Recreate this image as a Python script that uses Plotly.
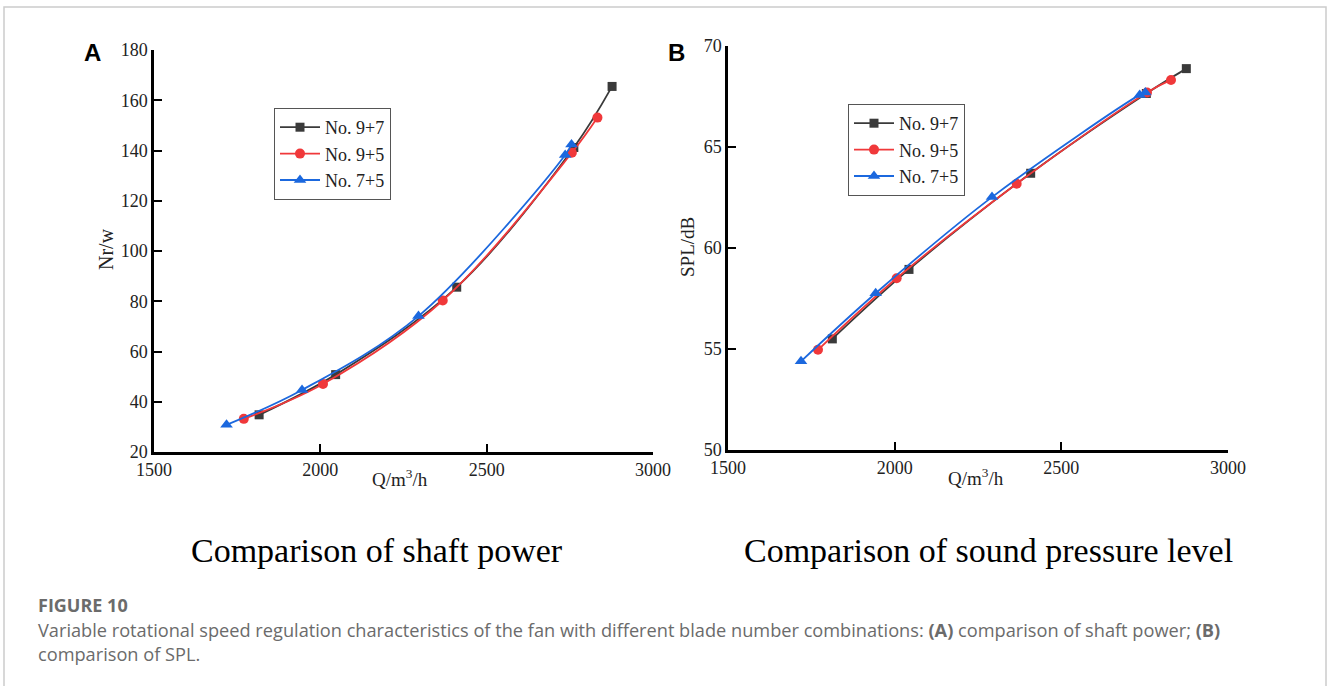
import plotly.graph_objects as go

# ---------------- data ----------------
series_names = ["No. 9+7", "No. 9+5", "No. 7+5"]

# Panel A: shaft power Nr (W) vs flow Q (m3/h)
q_97 = [1816, 2046, 2410, 2762, 2877]
nr_97 = [34.8, 50.8, 85.6, 141.2, 165.5]
q_95 = [1770, 2008, 2368, 2756, 2833]
nr_95 = [33.2, 47.1, 80.3, 139.1, 153.1]
q_75 = [1718, 1945, 2295, 2736, 2755]
nr_75 = [30.8, 44.7, 74.1, 138.2, 142.4]

# Panel B: SPL (dB) vs flow Q (m3/h)
qb_97 = [1813, 2043, 2408, 2755, 2875]
spl_97 = [55.5, 58.94, 63.7, 67.65, 68.88]
qb_95 = [1770, 2006, 2366, 2757, 2829]
spl_95 = [54.96, 58.5, 63.18, 67.7, 68.32]
qb_75 = [1719, 1943, 2292, 2735, 2752]
spl_75 = [54.39, 57.76, 62.52, 67.58, 67.7]

x_ticks = [1500, 2000, 2500, 3000]
ya_ticks = [20, 40, 60, 80, 100, 120, 140, 160, 180]
yb_ticks = [50, 55, 60, 65, 70]

colors = ["#3a3a3a", "#f0383a", "#1b68de"]
symbols = ["square", "circle", "triangle-up"]
msizes = [9, 10, 11]

W, H = 1328, 686
SERIF = "Liberation Serif"

fig = go.Figure()

panelA = [(q_97, nr_97), (q_95, nr_95), (q_75, nr_75)]
panelB = [(qb_97, spl_97), (qb_95, spl_95), (qb_75, spl_75)]

for i, (x, y) in enumerate(panelA):
    fig.add_trace(go.Scatter(
        x=x, y=y, name=series_names[i], mode="lines+markers",
        line=dict(color=colors[i], width=1.8, shape="spline", smoothing=1.0),
        marker=dict(color=colors[i], symbol=symbols[i], size=msizes[i]),
        xaxis="x", yaxis="y", legend="legend"))
for i, (x, y) in enumerate(panelB):
    fig.add_trace(go.Scatter(
        x=x, y=y, name=series_names[i], mode="lines+markers",
        line=dict(color=colors[i], width=1.8, shape="spline", smoothing=1.0),
        marker=dict(color=colors[i], symbol=symbols[i], size=msizes[i]),
        xaxis="x2", yaxis="y2", legend="legend2"))

def px(x):
    return x / W

def py(y):
    return 1 - y / H

axis_common = dict(
    showgrid=False, zeroline=False, showline=True, linecolor="black", linewidth=2.5,
    ticks="inside", ticklen=8, tickwidth=2, tickcolor="black", automargin=False,
    tickfont=dict(family=SERIF, size=18, color="#222"), mirror=False)

legend_common = dict(xanchor="left", yanchor="top", bgcolor="white",
                     bordercolor="#555", borderwidth=1,
                     font=dict(family=SERIF, size=18, color="#222"),
                     tracegroupgap=0, itemwidth=40)

fig.update_layout(
    width=W, height=H, margin=dict(l=0, r=0, t=0, b=0, pad=0, autoexpand=False),
    paper_bgcolor="white", plot_bgcolor="white",
    xaxis=dict(domain=[px(154), px(653)], range=[1500, 3000], tickvals=x_ticks,
               anchor="y", **axis_common),
    yaxis=dict(domain=[py(452), py(50)], range=[20, 180], tickvals=ya_ticks,
               anchor="x", **axis_common),
    xaxis2=dict(domain=[px(728), px(1228)], range=[1500, 3000], tickvals=x_ticks,
                anchor="y2", **axis_common),
    yaxis2=dict(domain=[py(450), py(46)], range=[50, 70], tickvals=yb_ticks,
                anchor="x2", **axis_common),
    legend=dict(x=px(274), y=py(108), **legend_common),
    legend2=dict(x=px(848), y=py(104), **legend_common),
    showlegend=True,
)

def note(text, x, y, size, family=SERIF, color="#222", xanchor="center", angle=0):
    return dict(text=text, x=px(x), y=py(y), xref="paper", yref="paper",
                xanchor=xanchor, yanchor="middle", textangle=angle, showarrow=False,
                font=dict(family=family, size=size, color=color))

ann = [
    note("<b>A</b>", 92, 53, 24, family="Liberation Sans", color="black"),
    note("<b>B</b>", 676, 53, 24, family="Liberation Sans", color="black"),
    note("Q/m<sup>3</sup>/h", 400, 478, 19),
    note("Q/m<sup>3</sup>/h", 976, 477, 19),
    note("Nr/w", 106, 249, 20, angle=-90),
    note("SPL/dB", 688, 247, 19, angle=-90),
    note("Comparison of shaft power", 377, 550, 34, color="black"),
    note("Comparison of sound pressure level", 988, 550, 34, color="black"),
    note("<b>FIGURE 10</b>", 36, 605, 18, family="Open Sans", color="#6b6b6b", xanchor="left"),
    note("Variable rotational speed regulation characteristics of the fan with different blade number combinations: <b>(A)</b> comparison of shaft power; <b>(B)</b>",
         36, 630, 18.2, family="Open Sans", color="#6b6b6b", xanchor="left"),
    note("comparison of SPL.", 36, 654, 18.2, family="Open Sans", color="#6b6b6b", xanchor="left"),
]
fig.update_layout(annotations=ann)

# outer light frame
fig.add_shape(type="rect", xref="paper", yref="paper", x0=px(4), x1=px(1326), y0=py(700), y1=py(7),
              line=dict(color="#cccccc", width=1.5), fillcolor="rgba(0,0,0,0)", layer="below")

fig.write_html("out.html",
               post_script="document.body.style.margin='0';document.body.style.overflow='hidden';")
